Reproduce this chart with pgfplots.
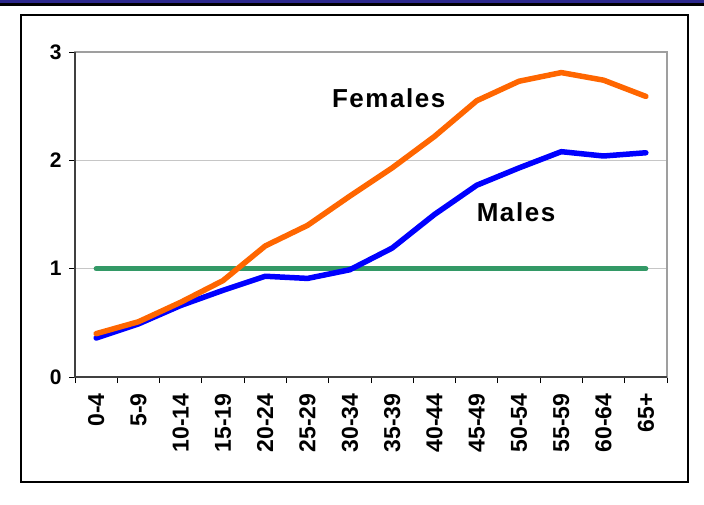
\documentclass[border=0pt]{standalone}
\usepackage{fontspec}
\setmainfont{Liberation Sans}
\newfontfamily\spaced[LetterSpace=6]{Liberation Sans}
\usepackage{pgfplots}
\pgfplotsset{compat=1.18}
\definecolor{fem}{RGB}{255,102,0}
\definecolor{mal}{RGB}{0,0,255}
\definecolor{ref}{RGB}{51,153,102}
\definecolor{bar}{RGB}{44,40,140}

\begin{document}
\begin{tikzpicture}[x=1pt,y=1pt]
\path[use as bounding box] (0,0) rectangle (704,504);
% slide header strip and frame
\fill[bar] (0,500.5) rectangle (704,504);
\fill[black] (0,498.3) rectangle (704,500.5);
\draw[black, line width=1.3pt] (21,22) rectangle (688,489);

\begin{axis}[at={(75pt,127pt)}, anchor=south west, scale only axis,
  width=592pt, height=325pt,
  xmin=-0.5, xmax=13.5, ymin=0, ymax=3,
  xtick={0,...,13},
  xticklabels={0-4,5-9,10-14,15-19,20-24,25-29,30-34,35-39,40-44,45-49,50-54,55-59,60-64,65+},
  minor xtick={-0.5,0.5,...,13.5},
  ytick={0,1,2,3},
  tick pos=left, tick align=outside,
  major tick length=6pt, minor tick length=6pt,
  major x tick style={draw=none},
  tick style={black, line width=0.8pt},
  ymajorgrids, grid style={gray!45, line width=0.8pt},
  axis line style={gray!75, line width=1.2pt},
  /pgf/number format/assume math mode=true,
  y tick label style={font=\bfseries\fontsize{21}{21}\selectfont},
  yticklabel shift=4pt,
  x tick label style={rotate=90, anchor=east, font=\bfseries\fontsize{23}{23}\selectfont},
  xticklabel shift=7pt,
  clip=false]
\addplot[ref, line width=5pt, line cap=round] coordinates {(0,1) (13,1)};
\addplot[mal, line width=5.5pt, line join=round, line cap=round] coordinates {
(0,0.36) (1,0.49) (2,0.66) (3,0.80) (4,0.93) (5,0.91) (6,0.99)
(7,1.19) (8,1.50) (9,1.77) (10,1.93) (11,2.08) (12,2.04) (13,2.07)};
\addplot[fem, line width=5.5pt, line join=round, line cap=round] coordinates {
(0,0.40) (1,0.51) (2,0.69) (3,0.89) (4,1.21) (5,1.40) (6,1.67)
(7,1.93) (8,2.22) (9,2.55) (10,2.73) (11,2.81) (12,2.74) (13,2.59)};
\draw[black!75, line width=1.4pt] (rel axis cs:0,1) -- (rel axis cs:0,0) -- (rel axis cs:1,0);
\node[font=\spaced\bfseries\fontsize{26}{26}\selectfont] at (axis cs:6.92,2.575) {Females};
\node[font=\spaced\bfseries\fontsize{26}{26}\selectfont] at (axis cs:9.93,1.52) {Males};
\end{axis}
\end{tikzpicture}
\end{document}
